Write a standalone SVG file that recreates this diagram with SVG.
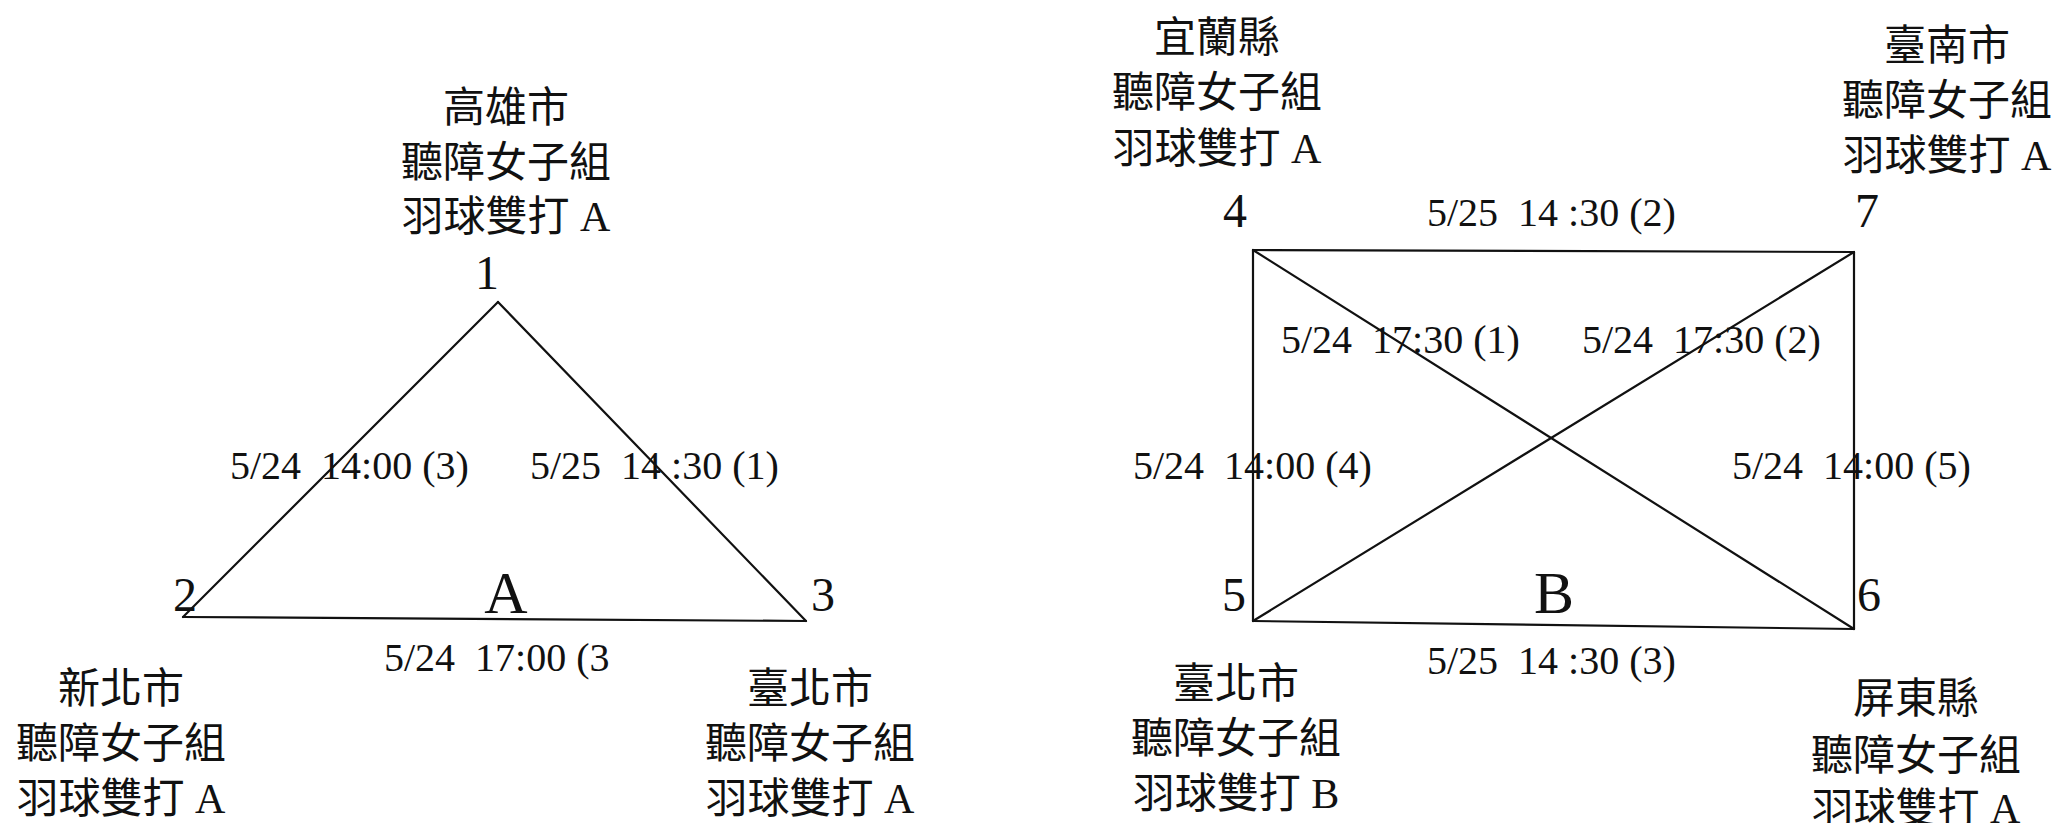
<svg xmlns="http://www.w3.org/2000/svg" width="2052" height="823" viewBox="0 0 2052 823">
<style>
.bg{fill:#ffffff}
.edge{stroke:#111;stroke-width:2.2;fill:none;stroke-linecap:round}
.cjk{font-family:"Liberation Serif","Noto Sans CJK TC",serif;font-size:42px;fill:#111;text-anchor:middle}
.num{font-family:"Liberation Serif","Noto Sans CJK TC",serif;font-size:48px;fill:#111;text-anchor:middle}
.grp{font-family:"Liberation Serif","Noto Sans CJK TC",serif;font-size:60px;fill:#111;text-anchor:middle}
.lbl{font-family:"Liberation Serif","Noto Sans CJK TC",serif;font-size:40px;fill:#111;white-space:pre}
</style>
<rect class="bg" x="0" y="0" width="2052" height="823"/>
<g id="connectors">
  <line class="edge" x1="498" y1="302" x2="183" y2="617"/>
  <line class="edge" x1="498" y1="302" x2="806" y2="621"/>
  <line class="edge" x1="183" y1="617" x2="806" y2="621"/>
  <line class="edge" x1="1253" y1="250" x2="1854" y2="252"/>
  <line class="edge" x1="1253" y1="250" x2="1253" y2="621"/>
  <line class="edge" x1="1854" y1="252" x2="1854" y2="629"/>
  <line class="edge" x1="1253" y1="621" x2="1854" y2="629"/>
  <line class="edge" x1="1253" y1="250" x2="1854" y2="629"/>
  <line class="edge" x1="1854" y1="252" x2="1253" y2="621"/>
</g>
<g id="edge-labels">
  <text class="lbl" xml:space="preserve" x="230" y="479">5/24  14:00 (3)</text>
  <text class="lbl" xml:space="preserve" x="530" y="479">5/25  14 :30 (1)</text>
  <text class="lbl" xml:space="preserve" x="384" y="671">5/24  17:00 (3</text>
  <text class="lbl" xml:space="preserve" x="1427" y="226">5/25  14 :30 (2)</text>
  <text class="lbl" xml:space="preserve" x="1281" y="353">5/24  17:30 (1)</text>
  <text class="lbl" xml:space="preserve" x="1582" y="353">5/24  17:30 (2)</text>
  <text class="lbl" xml:space="preserve" x="1133" y="479">5/24  14:00 (4)</text>
  <text class="lbl" xml:space="preserve" x="1732" y="479">5/24  14:00 (5)</text>
  <text class="lbl" xml:space="preserve" x="1427" y="674">5/25  14 :30 (3)</text>
</g>
<g id="group-A"><text class="grp" x="506" y="613">A</text></g>
<g id="group-B"><text class="grp" x="1554" y="613">B</text></g>
<g id="node-1">
  <text class="cjk" x="506" y="122">高雄市</text>
  <text class="cjk" x="506" y="177">聽障女子組</text>
  <text class="cjk" x="506" y="231">羽球雙打 A</text>
  <text class="num" x="487" y="289">1</text>
</g>
<g id="node-2">
  <text class="num" x="185" y="611">2</text>
  <text class="cjk" x="121" y="703">新北市</text>
  <text class="cjk" x="121" y="758">聽障女子組</text>
  <text class="cjk" x="121" y="813">羽球雙打 A</text>
</g>
<g id="node-3">
  <text class="num" x="823" y="611">3</text>
  <text class="cjk" x="810" y="703">臺北市</text>
  <text class="cjk" x="810" y="758">聽障女子組</text>
  <text class="cjk" x="810" y="813">羽球雙打 A</text>
</g>
<g id="node-4">
  <text class="cjk" x="1217" y="52">宜蘭縣</text>
  <text class="cjk" x="1217" y="107">聽障女子組</text>
  <text class="cjk" x="1217" y="163">羽球雙打 A</text>
  <text class="num" x="1235" y="227">4</text>
</g>
<g id="node-7">
  <text class="cjk" x="1947" y="60">臺南市</text>
  <text class="cjk" x="1947" y="115">聽障女子組</text>
  <text class="cjk" x="1947" y="170">羽球雙打 A</text>
  <text class="num" x="1867" y="227">7</text>
</g>
<g id="node-5">
  <text class="num" x="1234" y="611">5</text>
  <text class="cjk" x="1236" y="698">臺北市</text>
  <text class="cjk" x="1236" y="753">聽障女子組</text>
  <text class="cjk" x="1236" y="808">羽球雙打 B</text>
</g>
<g id="node-6">
  <text class="num" x="1869" y="611">6</text>
  <text class="cjk" x="1916" y="713">屏東縣</text>
  <text class="cjk" x="1916" y="770">聽障女子組</text>
  <text class="cjk" x="1916" y="823">羽球雙打 A</text>
</g>
</svg>
